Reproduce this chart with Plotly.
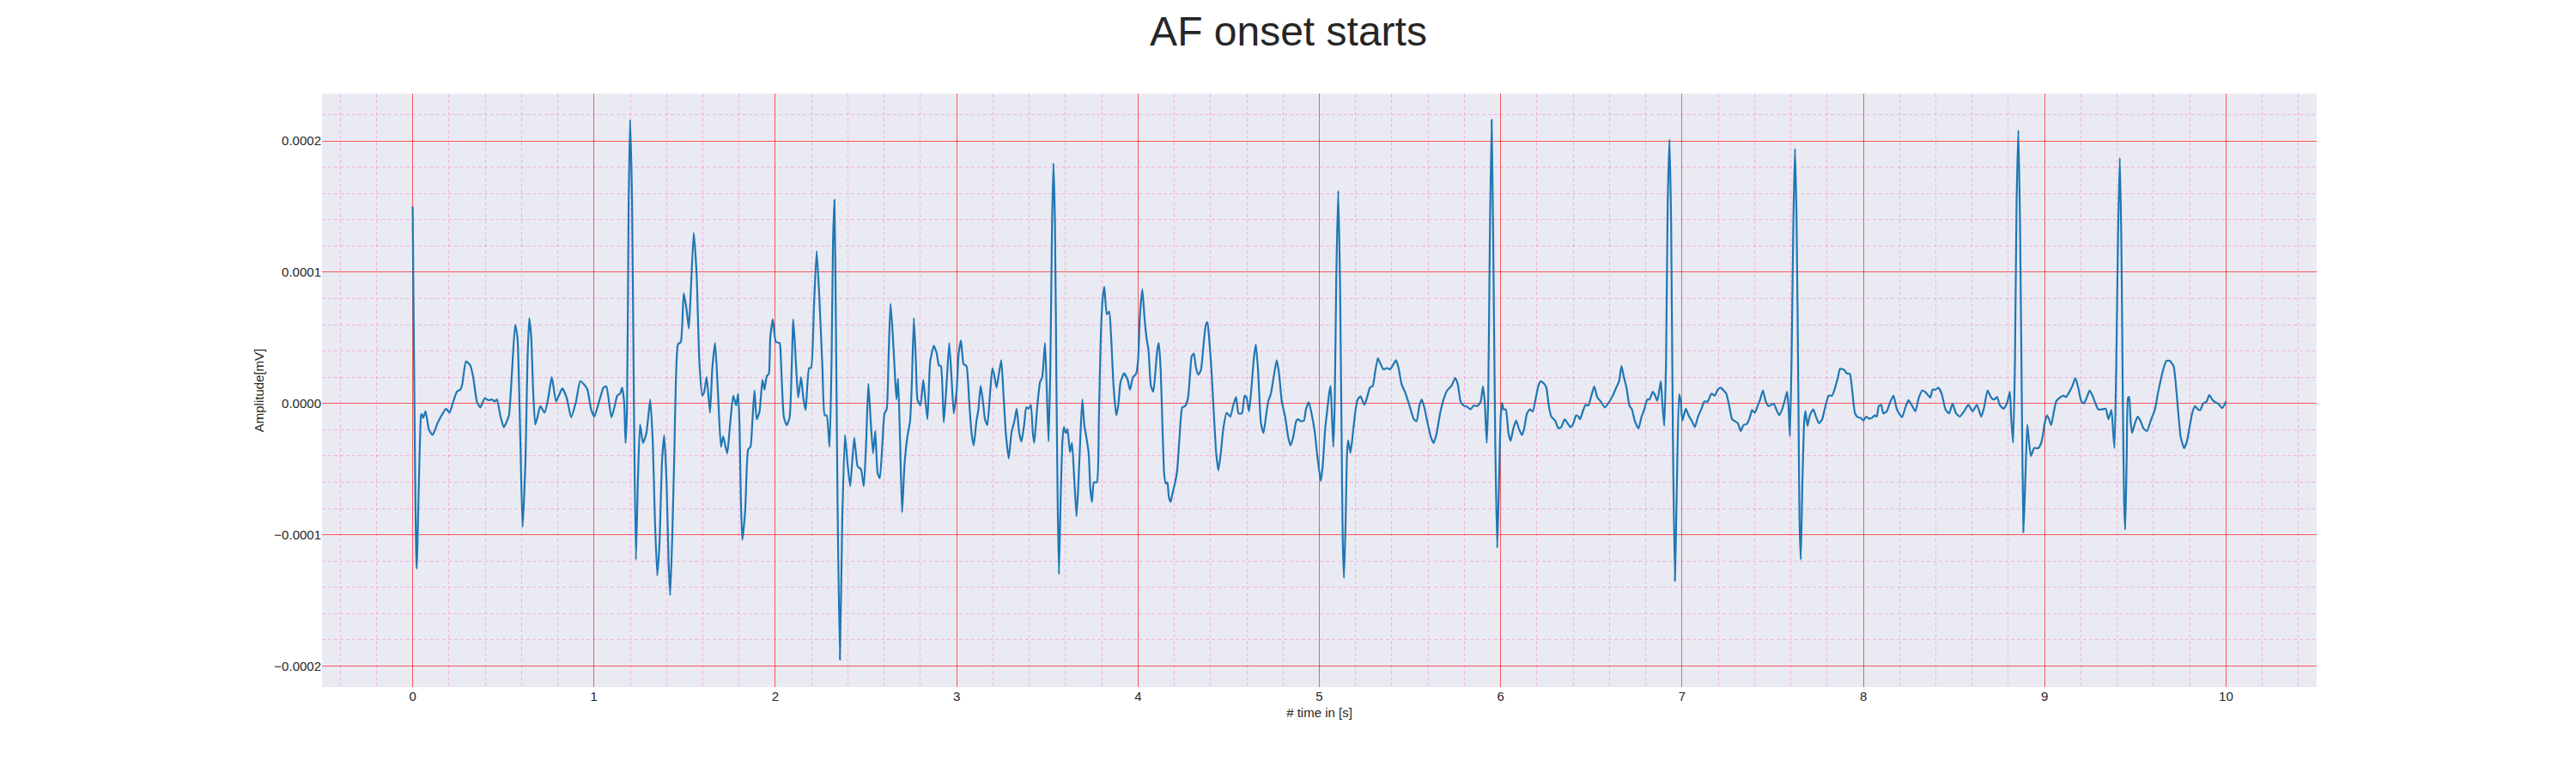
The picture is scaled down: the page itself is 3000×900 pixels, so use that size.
import plotly.graph_objects as go

# ----------------------------
# Data (time in s, amplitude in units of 1e-5 mV)
# ----------------------------
TIME_S = [
    # 0 - 1 s
    0.000, 0.022, 0.046, 0.050, 0.058, 0.071, 0.090, 0.110, 0.137, 0.160,
    0.184, 0.203, 0.224, 0.244, 0.263, 0.274, 0.294, 0.318, 0.334, 0.354,
    0.373, 0.397, 0.417, 0.439, 0.452, 0.465, 0.483, 0.502, 0.515, 0.531,
    0.546, 0.565, 0.578, 0.594, 0.606, 0.622, 0.633, 0.643, 0.654, 0.665,
    0.676, 0.688, 0.704, 0.728, 0.748, 0.767, 0.791, 0.806, 0.825, 0.849,
    0.874, 0.901, 0.924, 0.948, 0.964, 0.984, 1.002,
    # 1 - 2 s
    1.028, 1.052, 1.068, 1.096, 1.115, 1.128, 1.144, 1.155, 1.166, 1.174,
    1.182, 1.191, 1.199, 1.210, 1.220, 1.231, 1.242, 1.254, 1.270, 1.289,
    1.310, 1.324, 1.336, 1.349, 1.362, 1.374, 1.387, 1.400, 1.411, 1.420,
    1.431, 1.442, 1.452, 1.463, 1.479, 1.495, 1.511, 1.523, 1.534, 1.550,
    1.566, 1.581, 1.597, 1.608, 1.621, 1.640, 1.652, 1.668, 1.684, 1.700,
    1.712, 1.724, 1.735, 1.750, 1.768, 1.784, 1.795, 1.803, 1.810, 1.818,
    1.834, 1.850, 1.863, 1.874, 1.885, 1.897, 1.913, 1.929, 1.940, 1.953,
    1.964, 1.972, 1.986,
    # 2 - 3 s
    2.003, 2.024, 2.031, 2.047, 2.063, 2.079, 2.099, 2.113, 2.126, 2.142,
    2.154, 2.167, 2.186, 2.197, 2.213, 2.228, 2.244, 2.260, 2.272, 2.283,
    2.299, 2.310, 2.318, 2.326, 2.334, 2.343, 2.356, 2.369, 2.384, 2.397,
    2.413, 2.435, 2.454, 2.472, 2.488, 2.501, 2.513, 2.526, 2.539, 2.551,
    2.564, 2.576, 2.591, 2.602, 2.614, 2.625, 2.635, 2.646, 2.658, 2.668,
    2.677, 2.688, 2.699, 2.712, 2.728, 2.743, 2.753, 2.764, 2.775, 2.784,
    2.800, 2.816, 2.828, 2.839, 2.854, 2.874, 2.890, 2.902, 2.913, 2.929,
    2.945, 2.959, 2.973, 2.984, 3.000,
    # 3 - 4 s
    3.011, 3.024, 3.038, 3.054, 3.069, 3.082, 3.094, 3.109, 3.120, 3.132,
    3.145, 3.156, 3.169, 3.184, 3.197, 3.208, 3.220, 3.233, 3.246, 3.258,
    3.271, 3.287, 3.302, 3.318, 3.331, 3.345, 3.357, 3.372, 3.384, 3.397,
    3.409, 3.420, 3.428, 3.444, 3.460, 3.472, 3.487, 3.499, 3.507, 3.517,
    3.526, 3.534, 3.542, 3.550, 3.557, 3.564, 3.573, 3.583, 3.591, 3.602,
    3.611, 3.625, 3.636, 3.649, 3.661, 3.672, 3.683, 3.693, 3.704, 3.715,
    3.728, 3.737, 3.746, 3.757, 3.773, 3.784, 3.794, 3.805, 3.814, 3.828,
    3.841, 3.852, 3.865, 3.880, 3.891, 3.904, 3.923, 3.943, 3.956, 3.972,
    3.989,
    # 4 - 5 s
    4.000, 4.011, 4.024, 4.036, 4.047, 4.058, 4.071, 4.084, 4.095, 4.106,
    4.115, 4.125, 4.134, 4.144, 4.153, 4.162, 4.170, 4.180, 4.191, 4.205,
    4.216, 4.229, 4.244, 4.260, 4.276, 4.287, 4.296, 4.308, 4.320, 4.333,
    4.347, 4.363, 4.374, 4.383, 4.394, 4.405, 4.418, 4.431, 4.443, 4.457,
    4.470, 4.489, 4.509, 4.525, 4.541, 4.554, 4.573, 4.588, 4.599, 4.612,
    4.623, 4.639, 4.650, 4.662, 4.678, 4.692, 4.705, 4.718, 4.733, 4.749,
    4.765, 4.778, 4.793, 4.812, 4.828, 4.841, 4.856, 4.872, 4.883, 4.899,
    4.915, 4.926, 4.942, 4.957, 4.975, 4.989,
    # 5 - 6 s
    5.008, 5.019, 5.032, 5.044, 5.054, 5.062, 5.069, 5.077, 5.085, 5.093,
    5.104, 5.114, 5.123, 5.129, 5.136, 5.145, 5.153, 5.159, 5.172, 5.185,
    5.200, 5.211, 5.227, 5.248, 5.263, 5.279, 5.295, 5.306, 5.323, 5.338,
    5.353, 5.374, 5.390, 5.405, 5.423, 5.437, 5.453, 5.476, 5.500, 5.521,
    5.536, 5.552, 5.565, 5.579, 5.595, 5.615, 5.631, 5.647, 5.666, 5.685,
    5.705, 5.729, 5.749, 5.763, 5.779, 5.795, 5.815, 5.833, 5.852, 5.871,
    5.890, 5.902, 5.912, 5.923, 5.931, 5.940, 5.950, 5.959, 5.970, 5.981,
    5.991,
    # 6 - 7 s
    6.000, 6.008, 6.016, 6.028, 6.043, 6.055, 6.069, 6.085, 6.101, 6.117,
    6.129, 6.145, 6.161, 6.177, 6.192, 6.208, 6.221, 6.240, 6.252, 6.265,
    6.279, 6.300, 6.319, 6.334, 6.353, 6.369, 6.385, 6.401, 6.416, 6.429,
    6.438, 6.453, 6.468, 6.484, 6.500, 6.516, 6.532, 6.552, 6.574, 6.595,
    6.618, 6.637, 6.653, 6.666, 6.678, 6.694, 6.710, 6.724, 6.740, 6.760,
    6.776, 6.792, 6.808, 6.820, 6.839, 6.852, 6.864, 6.883, 6.891, 6.902,
    6.912, 6.921, 6.931, 6.940, 6.950, 6.961, 6.972, 6.984, 6.993,
    # 7 - 8 s
    7.002, 7.021, 7.036, 7.055, 7.071, 7.087, 7.106, 7.123, 7.142, 7.162,
    7.181, 7.197, 7.213, 7.229, 7.244, 7.260, 7.276, 7.292, 7.308, 7.323,
    7.339, 7.358, 7.374, 7.386, 7.402, 7.418, 7.431, 7.446, 7.462, 7.478,
    7.505, 7.520, 7.536, 7.552, 7.568, 7.579, 7.587, 7.595, 7.604, 7.614,
    7.623, 7.632, 7.642, 7.648, 7.655, 7.664, 7.674, 7.681, 7.692, 7.705,
    7.724, 7.740, 7.755, 7.773, 7.789, 7.809, 7.828, 7.844, 7.859, 7.872,
    7.896, 7.907, 7.926, 7.938, 7.954, 7.970, 7.986,
    # 8 - 9 s
    8.000, 8.016, 8.032, 8.047, 8.063, 8.074, 8.085, 8.098, 8.110, 8.129,
    8.145, 8.166, 8.185, 8.213, 8.232, 8.249, 8.268, 8.287, 8.306, 8.326,
    8.347, 8.369, 8.382, 8.397, 8.413, 8.432, 8.453, 8.473, 8.492, 8.511,
    8.532, 8.555, 8.579, 8.603, 8.626, 8.650, 8.666, 8.685, 8.705, 8.721,
    8.737, 8.752, 8.773, 8.792, 8.808, 8.815, 8.826, 8.836, 8.845, 8.855,
    8.864, 8.874, 8.883, 8.893, 8.904, 8.913, 8.924, 8.942, 8.965, 8.981,
    # 9 - 10 s
    8.990, 9.000, 9.013, 9.024, 9.036, 9.049, 9.063, 9.084, 9.103, 9.118,
    9.137, 9.153, 9.169, 9.185, 9.201, 9.216, 9.232, 9.248, 9.264, 9.280,
    9.295, 9.316, 9.336, 9.352, 9.368, 9.378, 9.385, 9.395, 9.404, 9.414,
    9.423, 9.431, 9.438, 9.444, 9.452, 9.460, 9.466, 9.474, 9.482, 9.498,
    9.513, 9.529, 9.545, 9.564, 9.585, 9.608, 9.624, 9.640, 9.656, 9.671,
    9.690, 9.711, 9.722, 9.735, 9.750, 9.769, 9.785, 9.801, 9.814, 9.829,
    9.845, 9.858, 9.874, 9.893, 9.908, 9.924, 9.940, 9.956, 9.979, 10.000,
]

AMP_1E5 = [
    # 0 - 1 s
    15.0, -12.6, -0.9, -0.8, -1.1, -0.6, -2.0, -2.4, -1.5, -0.9,
    -0.4, -0.7, 0.15, 0.9, 1.05, 1.5, 3.2, 2.9, 2.0, 0.15,
    -0.3, 0.4, 0.25, 0.3, 0.15, 0.3, -0.9, -1.8, -1.5, -0.9,
    2.0, 6.0, 5.0, -2.9, -9.4, -4.4, 3.2, 6.5, 5.0, 0.75,
    -1.6, -1.05, -0.2, -0.7, 0.45, 2.0, 0.15, 0.6, 1.15, 0.45,
    -1.05, 0.15, 1.7, 1.4, 1.05, -0.45, -1.0,
    # 1 - 2 s
    0.15, 1.2, 1.3, -1.05, -0.15, 0.6, 0.75, 1.2, 0.15, -3.0,
    -0.45, 15.2, 21.6, 15.2, 0.15, -11.9, -5.9, -1.6, -3.0, -2.25,
    0.3, -2.9, -8.9, -13.1, -10.4, -4.7, -2.4, -5.9, -11.9, -14.6,
    -10.4, -4.4, 2.0, 4.5, 4.7, 8.4, 7.1, 5.7, 8.6, 13.0,
    9.8, 3.2, 0.6, 0.9, 2.0, -0.7, 2.6, 4.6, 0.75, -3.3,
    -2.5, -3.2, -3.8, -1.65, 0.6, -0.15, 0.75, -1.95, -7.4, -10.4,
    -8.1, -3.5, -3.3, -1.2, 1.0, -1.2, -0.6, 1.8, 1.05, 2.1,
    2.25, 5.0, 6.4,
    # 2 - 3 s
    4.7, 4.6, 3.2, -1.05, -1.65, -1.05, 6.4, 3.2, 0.45, 2.0,
    0.45, -0.5, 2.7, 2.7, 7.4, 11.6, 7.7, 2.6, -0.9, -0.9,
    -3.3, 3.2, 12.2, 15.5, 6.2, -7.4, -19.5, -8.9, -2.4, -4.4,
    -6.3, -2.6, -4.8, -5.0, -6.3, -2.9, 1.5, -1.35, -3.8, -2.1,
    -5.3, -5.7, -2.9, -0.75, -0.45, 3.8, 7.6, 5.6, 2.6, 0.3,
    1.9, -2.9, -8.3, -4.7, -2.55, -1.35, 1.65, 6.5, 3.2, 0.3,
    -0.15, 1.8, 0.15, -1.2, 3.2, 4.4, 3.8, 2.9, 2.85, -1.45,
    1.65, 4.6, 1.65, -0.75, 1.0,
    # 3 - 4 s
    3.8, 4.8, 3.0, 2.85, 0.15, -2.25, -3.2, -1.35, -0.45, 1.35,
    0.15, -1.2, -1.65, 0.75, 2.7, 2.1, 1.2, 2.25, 3.3, 0.75,
    -2.25, -4.2, -2.25, -1.35, -0.4, -2.25, -2.9, -1.65, -0.3, -0.4,
    -0.1, -2.25, -3.0, -0.3, 1.65, 2.0, 4.6, 0.15, -2.9, 3.2,
    13.7, 18.3, 13.7, 1.65, -7.4, -13.0, -7.4, -2.9, -1.8, -2.25,
    -1.95, -3.7, -3.0, -5.9, -8.6, -5.9, -2.25, 0.3, -1.65, -2.55,
    -3.8, -6.5, -7.5, -6.0, -6.0, -1.35, 4.7, 8.0, 8.9, 6.8,
    7.0, 5.0, 1.35, -0.9, -0.15, 1.65, 2.3, 1.8, 1.05, 2.0,
    2.25,
    # 4 - 5 s
    3.2, 6.8, 8.7, 6.5, 5.0, 4.05, 1.35, 0.9, 2.25, 4.05,
    4.6, 2.55, -1.35, -5.3, -6.1, -6.0, -7.1, -7.5, -6.8, -6.0,
    -5.1, -2.55, -0.3, -0.2, 0.45, 2.25, 3.6, 3.8, 2.7, 2.2,
    2.55, 4.7, 6.0, 6.2, 4.7, 2.55, -0.75, -3.75, -5.1, -3.75,
    -1.95, -0.7, -1.0, -0.15, 0.5, -0.75, -0.75, 0.6, 0.45, -0.6,
    0.75, 3.45, 4.5, 2.55, -1.5, -2.25, -1.05, 0.15, 0.75, 2.1,
    3.3, 2.25, 0.15, -1.05, -2.55, -3.2, -2.55, -1.35, -1.2, -1.35,
    -1.3, -0.45, 0.1, -0.75, -2.2, -4.0,
    # 5 - 6 s
    -5.9, -4.7, -1.95, -0.45, 0.75, 1.35, -0.75, -3.3, 0.15, 9.2,
    16.2, 9.2, -2.85, -10.4, -13.3, -8.9, -3.75, -2.8, -3.75, -2.25,
    -0.45, 0.3, 0.55, -0.1, 0.45, 1.2, 1.35, 2.25, 3.45, 3.0,
    2.6, 2.7, 2.6, 2.9, 3.3, 2.7, 1.5, 0.75, -0.3, -1.2,
    -1.35, -0.15, 0.3, -0.3, -1.35, -2.55, -3.0, -2.25, -0.75, 0.3,
    1.0, 1.35, 1.95, 1.5, 0.15, -0.15, -0.25, -0.45, -0.15, -0.2,
    0.15, 1.3, 0.15, -3.0, 0.15, 12.2, 21.6, 12.2, -2.85, -11.0,
    -5.9,
    # 6 - 7 s
    -1.05, 0.05, -0.45, -0.45, -2.25, -2.85, -1.95, -1.3, -1.95, -2.4,
    -1.95, -0.75, -0.45, -0.6, 0.3, 1.35, 1.7, 1.5, 1.2, -0.15,
    -1.0, -1.3, -1.9, -1.8, -1.2, -1.5, -1.8, -1.5, -0.9, -1.0,
    -1.2, -0.6, -0.1, -0.15, 0.6, 1.3, 0.5, 0.15, -0.3, 0.05,
    0.6, 1.2, 1.7, 2.85, 2.1, 1.2, -0.15, -0.45, -1.35, -1.9,
    -1.05, -0.45, 0.3, 0.3, 0.9, 0.6, 0.2, 1.7, 0.15, -1.7,
    3.2, 15.2, 20.1, 13.7, -2.85, -13.5, -5.9, 0.7, 0.15,
    # 7 - 8 s
    -1.3, -0.4, -0.9, -1.35, -1.8, -1.05, -0.45, 0.15, 0.15, 0.75,
    0.6, 1.05, 1.2, 1.0, 0.75, -0.15, -1.2, -1.35, -1.5, -2.1,
    -1.65, -1.55, -1.05, -0.5, -0.7, -0.15, 0.3, 1.0, 0.15, -0.2,
    0.0, -0.45, -0.9, -0.45, 0.3, 0.9, -0.15, -2.5, 3.2, 13.7,
    19.4, 13.7, 0.15, -8.9, -11.9, -5.9, -1.35, -0.6, -1.7, -0.9,
    -0.45, -1.05, -1.5, -1.2, -0.3, 0.6, 0.6, 1.2, 1.95, 2.65,
    2.55, 2.3, 2.25, 1.05, -0.75, -1.05, -1.1,
    # 8 - 9 s
    -1.3, -1.0, -1.15, -1.1, -0.9, -1.0, -0.2, -0.1, -0.75, -0.6,
    0.0, 0.6, -0.45, -1.05, -0.3, 0.25, -0.15, -0.6, 0.45, 1.0,
    0.8, 0.45, 1.05, 1.05, 1.2, 0.75, -0.45, -0.75, 0.0, -0.75,
    -1.0, -0.6, -0.1, -0.6, -0.1, -1.0, -0.3, 1.0, 0.45, 0.3,
    0.5, -0.1, -0.4, 0.0, 0.9, -1.05, -3.0, 3.2, 15.2, 20.8,
    13.7, 0.15, -9.8, -5.9, -1.6, -2.85, -4.0, -3.4, -3.4, -3.0,
    # 9 - 10 s
    -2.4, -1.5, -0.9, -1.2, -1.65, -0.75, 0.15, 0.45, 0.6, 0.5,
    0.9, 1.35, 1.95, 1.2, 0.2, 0.0, 0.45, 1.0, 0.6, 0.0,
    -0.45, -0.45, -0.4, -1.2, -0.5, -2.25, -3.4, 3.2, 12.2, 18.7,
    12.2, 0.15, -7.4, -9.6, -4.4, 0.45, 0.5, -1.35, -2.25, -1.5,
    -1.0, -1.35, -1.9, -2.1, -1.3, -0.45, 0.75, 1.8, 2.7, 3.25,
    3.25, 2.85, 1.65, -0.45, -2.55, -3.4, -2.85, -1.65, -0.7, -0.2,
    -0.45, -0.5, 0.0, 0.15, 0.65, 0.3, 0.1, 0.0, -0.35, 0.15,
]

assert len(TIME_S) == len(AMP_1E5), (len(TIME_S), len(AMP_1E5))

# convert to mV
amplitude_mv = [v * 1e-5 for v in AMP_1E5]

TITLE = "AF onset starts"
X_LABEL = "# time in [s]"
Y_LABEL = "Amplitude[mV]"

FONT = "Liberation Sans, Arial, sans-serif"
TEXT_COLOR = "#262626"
MAJOR_GRID = "rgba(255,0,0,0.62)"
MINOR_GRID = "rgba(255,105,200,0.42)"

# ----------------------------
# Figure
# ----------------------------
fig = go.Figure()
fig.add_trace(
    go.Scatter(
        x=TIME_S,
        y=amplitude_mv,
        mode="lines",
        line=dict(color="#1f77b4", width=2.2, shape="spline", smoothing=0.5),
        showlegend=False,
    )
)

# page body has an 8px default margin, so the margins are shifted by 8px
fig.update_layout(
    width=3000,
    height=900,
    margin=dict(l=367, r=310, t=101, b=108),
    paper_bgcolor="white",
    plot_bgcolor="#EAEAF2",
    font=dict(family=FONT, color=TEXT_COLOR, size=15),
    title=dict(
        text=TITLE,
        x=0.4975,
        xanchor="center",
        y=0.969,
        yanchor="middle",
        font=dict(size=48, color=TEXT_COLOR, family=FONT),
    ),
)

fig.update_xaxes(
    range=[-0.5, 10.5],
    tick0=0,
    dtick=1,
    showgrid=True,
    gridcolor=MAJOR_GRID,
    gridwidth=1,
    zeroline=False,
    showline=False,
    ticks="",
    tickfont=dict(size=15),
    title=dict(text=X_LABEL, font=dict(size=15), standoff=6),
    minor=dict(tick0=0, dtick=0.2, showgrid=True, gridcolor=MINOR_GRID,
               gridwidth=1, griddash="4px,3px"),
)

fig.update_yaxes(
    range=[-0.000216, 0.000236],
    tick0=0,
    dtick=0.0001,
    tickformat=".4f",
    showgrid=True,
    gridcolor=MAJOR_GRID,
    gridwidth=1,
    zeroline=False,
    showline=False,
    ticks="",
    tickfont=dict(size=15),
    title=dict(text=Y_LABEL, font=dict(size=15), standoff=8),
    minor=dict(tick0=0, dtick=0.00002, showgrid=True, gridcolor=MINOR_GRID,
               gridwidth=1, griddash="4px,3px"),
)

fig.write_html("out.html")
